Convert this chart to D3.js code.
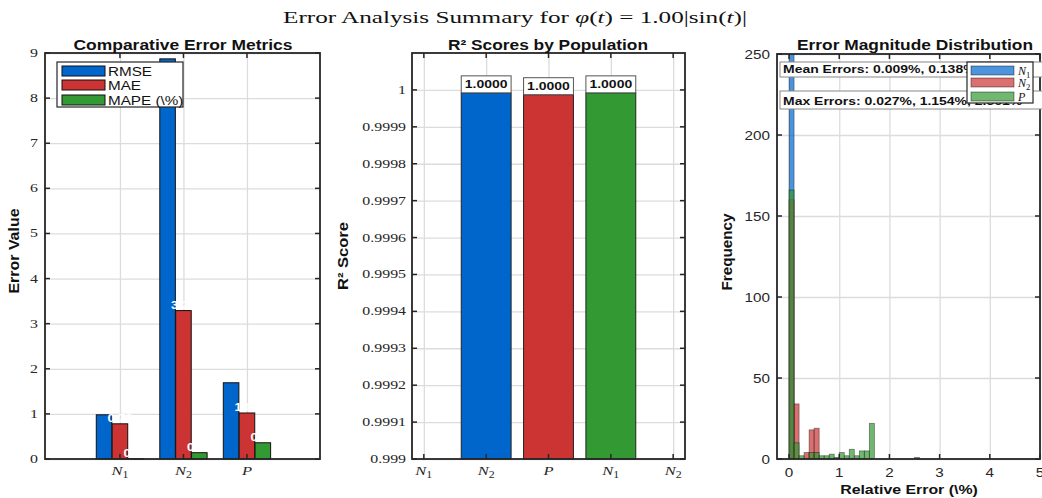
<!DOCTYPE html>
<html>
<head>
<meta charset="utf-8">
<script src="https://cdn.jsdelivr.net/npm/d3@7"></script>
<style>
  body { margin: 0; background: #fff; }
  svg { display: block; }
</style>
</head>
<body>
<svg id="chart" width="1042" height="498"></svg>
<script>
// ---------- data ----------
const populations = ["N_1", "N_2", "P"];
const metricNames = ["RMSE", "MAE", "MAPE (\\%)"];
const rmseValues = [0.98, 8.87, 1.69];
const maeValues = [0.78, 3.29, 1.02];
const mapeValues = [0.005, 0.14, 0.36];
const errorTicks = [0, 1, 2, 3, 4, 5, 6, 7, 8, 9];

const r2Values = [0.999992, 0.999987, 0.999992];
const r2Labels = ["1.0000", "1.0000", "1.0000"];
const r2Ticks = [0.999, 0.9991, 0.9992, 0.9993, 0.9994, 0.9995, 0.9996, 0.9997, 0.9998, 0.9999, 1];
const r2TickLabels = ["0.999", "0.9991", "0.9992", "0.9993", "0.9994", "0.9995", "0.9996", "0.9997", "0.9998", "0.9999", "1"];
const r2CategoryTicks = [0, 1, 2, 3, 4];
const r2CategoryLabels = ["N_1", "N_2", "P", "N_1", "N_2"];

const binWidth = 0.1;
const n1Counts = [256];
const n2Counts = [160, 34, 0, 4, 18, 19];
const pCounts = [166, 10, 2, 0, 4, 4, 2, 2, 3, 1, 4, 2, 6, 2, 5, 5, 22, 0, 0, 0, 0, 0, 0, 0, 0, 1];
const freqTicks = [0, 50, 100, 150, 200, 250];
const relErrTicks = [0, 1, 2, 3, 4, 5];
const meanErrors = ["0.009%", "0.138%", "0.377%"];
const maxErrors = ["0.027%", "1.154%", "2.561%"];

// ---------- styling ----------
const BLUE = "#0066CC", RED = "#CC3333", GREEN = "#339933";
const AXIS = "#262626", GRID = "#dcdcdc";
const SERIF = "'Liberation Serif', 'DejaVu Serif', serif";
const SANS = "'Liberation Sans', Arial, sans-serif";
const HS = 1.27; // horizontal widening of the text glyphs

const svg = d3.select("#chart");

// widen horizontal text by HS (or to a fixed length)
function widen(sel, fixed) {
  sel.each(function () {
    const len = this.getComputedTextLength();
    this.setAttribute("textLength", fixed || len * HS);
    this.setAttribute("lengthAdjust", "spacingAndGlyphs");
  });
  return sel;
}

// math-style label: italic letter with optional subscript
function mathLabel(sel, label, size) {
  sel.text(null);
  const [base, sub] = label.split("_");
  sel.append("tspan").attr("font-style", "italic").text(base);
  if (sub) sel.append("tspan").attr("font-size", size * 0.72).attr("dy", size * 0.25).text(sub);
}

// background grid
function frame(g, x, y, xt, yt) {
  const [xl, xr] = x.range();
  const [yb, ytp] = y.range();
  g.append("g").attr("transform", `translate(0,${yb})`)
    .call(d3.axisBottom(x).tickValues(xt).tickSize(-(yb - ytp)).tickFormat(""))
    .call(s => { s.select(".domain").remove(); s.selectAll("line").attr("stroke", GRID).attr("stroke-width", 1.3); });
  g.append("g").attr("transform", `translate(${xl},0)`)
    .call(d3.axisLeft(y).tickValues(yt).tickSize(-(xr - xl)).tickFormat(""))
    .call(s => { s.select(".domain").remove(); s.selectAll("line").attr("stroke", GRID).attr("stroke-width", 1.3); });
}
// axes box with inward ticks on all four sides
function box(g, x, y, xt, yt) {
  const [xl, xr] = x.range();
  const [yb, ytp] = y.range();
  const tk = 5;
  const t = g.append("g").attr("stroke", AXIS).attr("stroke-width", 1.5);
  xt.forEach(v => {
    t.append("line").attr("x1", x(v)).attr("x2", x(v)).attr("y1", yb).attr("y2", yb - tk);
    t.append("line").attr("x1", x(v)).attr("x2", x(v)).attr("y1", ytp).attr("y2", ytp + tk);
  });
  yt.forEach(v => {
    t.append("line").attr("x1", xl).attr("x2", xl + tk).attr("y1", y(v)).attr("y2", y(v));
    t.append("line").attr("x1", xr).attr("x2", xr - tk).attr("y1", y(v)).attr("y2", y(v));
  });
  g.append("rect").attr("x", xl).attr("y", ytp).attr("width", xr - xl).attr("height", yb - ytp)
    .attr("fill", "none").attr("stroke", AXIS).attr("stroke-width", 1.8);
}
function title(g, text, cx, w) {
  g.append("text").attr("x", cx).attr("y", 50).attr("text-anchor", "middle")
    .attr("font-family", SANS).attr("font-weight", "bold").attr("font-size", 14).attr("fill", "#111").text(text)
    .call(widen, w);
}
function ylabel(g, text, cx, cy, len) {
  g.append("text").attr("transform", `translate(${cx},${cy}) rotate(-90)`).attr("text-anchor", "middle")
    .attr("font-family", SANS).attr("font-weight", "bold").attr("font-size", 14).attr("fill", "#111").text(text)
    .attr("textLength", len).attr("lengthAdjust", "spacingAndGlyphs");
}

// ---------- main title ----------
const mt = svg.append("text").attr("x", 515).attr("y", 23).attr("text-anchor", "middle")
  .attr("font-family", SERIF).attr("font-size", 16).attr("fill", "#111");
mt.append("tspan").text("Error Analysis Summary for ");
mt.append("tspan").attr("font-style", "italic").text("φ");
mt.append("tspan").text("(");
mt.append("tspan").attr("font-style", "italic").text("t");
mt.append("tspan").text(") = 1.00|sin(");
mt.append("tspan").attr("font-style", "italic").text("t");
mt.append("tspan").text(")|");
widen(mt, 464);

// ---------- panel 1: comparative error metrics ----------
{
  const g = svg.append("g");
  const x = d3.scaleLinear().domain([-0.18, 4.15]).range([45, 320]);
  const y = d3.scaleLinear().domain([0, 9]).range([459, 53]);
  const cats = populations.map((d, i) => i + 1);
  frame(g, x, y, cats, errorTicks);

  const series = [
    { name: metricNames[0], values: rmseValues, color: BLUE },
    { name: metricNames[1], values: maeValues, color: RED },
    { name: metricNames[2], values: mapeValues, color: GREEN }
  ];
  const offsets = [-0.25, 0, 0.25];
  const bw = 0.245;
  const bars = g.append("g");
  series.forEach((s, si) => {
    bars.selectAll(null).data(s.values).enter().append("rect")
      .attr("x", (d, i) => x(cats[i] + offsets[si] - bw / 2))
      .attr("width", x(bw) - x(0))
      .attr("y", d => y(d))
      .attr("height", d => y(0) - y(d))
      .attr("fill", s.color).attr("stroke", "#111").attr("stroke-width", 1);
  });
  // value labels (white, drawn after all bars)
  series.forEach((s, si) => {
    bars.selectAll(null).data(s.values).enter().append("text")
      .attr("x", (d, i) => x(cats[i] + offsets[si]))
      .attr("y", d => y(d) - 2)
      .attr("text-anchor", "middle").attr("font-family", SANS).attr("font-weight", "bold")
      .attr("font-size", 10).attr("fill", "#fff").text(d => d.toFixed(2))
      .call(widen);
  });
  box(g, x, y, cats, errorTicks);

  // tick labels
  g.selectAll(null).data(errorTicks).enter().append("text")
    .attr("x", 38).attr("y", d => y(d) + 4).attr("text-anchor", "end")
    .attr("font-family", SERIF).attr("font-size", 12.5).attr("fill", AXIS).text(d => d)
    .call(widen);
  g.selectAll(null).data(populations).enter().append("text")
    .attr("x", (d, i) => x(cats[i])).attr("y", 475).attr("text-anchor", "middle")
    .attr("font-family", SERIF).attr("font-size", 13).attr("fill", AXIS)
    .each(function (d) { mathLabel(d3.select(this), d, 13); })
    .call(widen);

  title(g, "Comparative Error Metrics", 183, 219);
  ylabel(g, "Error Value", 19, 251, 85);

  // legend
  const lg = g.append("g");
  lg.append("rect").attr("x", 57).attr("y", 62).attr("width", 126).attr("height", 45)
    .attr("fill", "#fff").attr("stroke", AXIS).attr("stroke-width", 1.2);
  series.forEach((s, i) => {
    const yy = [66, 80, 95][i];
    lg.append("rect").attr("x", 62).attr("y", yy).attr("width", 43).attr("height", 10)
      .attr("fill", s.color).attr("stroke", "#111").attr("stroke-width", 1);
    lg.append("text").attr("x", 108).attr("y", yy + 9.5).attr("font-family", SANS)
      .attr("font-size", 12).attr("fill", "#111").text(s.name).call(widen);
  });
}

// ---------- panel 2: R² scores ----------
{
  const g = svg.append("g");
  const x = d3.scaleLinear().domain([-0.19, 4.19]).range([412, 685]);
  const y = d3.scaleLinear().domain([0.999, 1.0001]).range([459, 53]);
  frame(g, x, y, r2CategoryTicks, r2Ticks);
  const colors = [BLUE, RED, GREEN];
  const bw = 0.8;
  g.selectAll(null).data(r2Values).enter().append("rect")
    .attr("x", (d, i) => x(i + 1 - bw / 2)).attr("width", x(bw) - x(0))
    .attr("y", d => y(d)).attr("height", d => y(0.999) - y(d))
    .attr("fill", (d, i) => colors[i]).attr("stroke", "#222").attr("stroke-width", 1);
  // value boxes
  r2Values.forEach((d, i) => {
    const bx = x(i + 1 - bw / 2), w = x(bw) - x(0);
    g.append("rect").attr("x", bx).attr("y", y(d) - 17).attr("width", w).attr("height", 17)
      .attr("fill", "#fff").attr("stroke", "#555").attr("stroke-width", 1);
    g.append("text").attr("x", bx + w / 2).attr("y", y(d) - 4.5).attr("text-anchor", "middle")
      .attr("font-family", SANS).attr("font-weight", "bold").attr("font-size", 11).attr("fill", "#111")
      .text(r2Labels[i]).call(widen);
  });
  box(g, x, y, r2CategoryTicks, r2Ticks);
  g.selectAll(null).data(r2Ticks).enter().append("text")
    .attr("x", 406).attr("y", d => y(d) + 4).attr("text-anchor", "end")
    .attr("font-family", SERIF).attr("font-size", 12.5).attr("fill", AXIS).text((d, i) => r2TickLabels[i])
    .call(widen);
  g.selectAll(null).data(r2CategoryLabels).enter().append("text")
    .attr("x", (d, i) => x(r2CategoryTicks[i])).attr("y", 475).attr("text-anchor", "middle")
    .attr("font-family", SERIF).attr("font-size", 13).attr("fill", AXIS)
    .each(function (d) { mathLabel(d3.select(this), d, 13); })
    .call(widen);
  title(g, "R² Scores by Population", 548, 200);
  ylabel(g, "R² Score", 348, 256, 68);
}

// ---------- panel 3: error magnitude histogram ----------
{
  const g = svg.append("g");
  const x = d3.scaleLinear().domain([-0.24, 5]).range([777, 1040]);
  const y = d3.scaleLinear().domain([0, 250]).range([459, 54]);
  frame(g, x, y, relErrTicks, freqTicks);

  svg.append("defs").append("clipPath").attr("id", "histClip")
    .append("rect").attr("x", 777).attr("y", 54).attr("width", 263).attr("height", 405);
  const hg = g.append("g").attr("clip-path", "url(#histClip)");
  const hist = [
    { counts: n1Counts, color: BLUE, label: "N_1" },
    { counts: n2Counts, color: RED, label: "N_2" },
    { counts: pCounts, color: GREEN, label: "P" }
  ];
  hist.forEach(h => {
    const bins = h.counts.map((c, i) => ({ x0: i * binWidth, c })).filter(b => b.c > 0);
    hg.selectAll(null).data(bins).enter().append("rect")
      .attr("x", b => x(b.x0)).attr("width", x(binWidth) - x(0))
      .attr("y", b => y(b.c)).attr("height", b => y(0) - y(b.c))
      .attr("fill", h.color).attr("fill-opacity", 0.7)
      .attr("stroke", "#000").attr("stroke-opacity", 0.45).attr("stroke-width", 0.8);
  });
  box(g, x, y, relErrTicks, freqTicks);

  g.selectAll(null).data(freqTicks).enter().append("text")
    .attr("x", 770).attr("y", d => y(d) + 4.5).attr("text-anchor", "end")
    .attr("font-family", SANS).attr("font-size", 12).attr("fill", AXIS).text(d => d)
    .call(widen);
  g.selectAll(null).data(relErrTicks).enter().append("text")
    .attr("x", d => x(d)).attr("y", 477).attr("text-anchor", "middle")
    .attr("font-family", SANS).attr("font-size", 12).attr("fill", AXIS).text(d => d)
    .call(widen);
  g.append("text").attr("x", 909).attr("y", 494).attr("text-anchor", "middle")
    .attr("font-family", SANS).attr("font-weight", "bold").attr("font-size", 12.5).attr("fill", "#111")
    .text("Relative Error (\\%)").call(widen);
  title(g, "Error Magnitude Distribution", 915, 236);
  ylabel(g, "Frequency", 732, 252, 77);

  // annotation boxes
  function note(text, yTop, h, base) {
    const t = g.append("text").attr("x", 783).attr("y", base)
      .attr("font-family", SANS).attr("font-weight", "bold").attr("font-size", 11).attr("fill", "#111").text(text)
      .call(widen);
    const w = t.node().getComputedTextLength() * HS;
    g.insert("rect", () => t.node()).attr("x", 780).attr("y", yTop).attr("width", w + 8).attr("height", h)
      .attr("fill", "#fff").attr("stroke", "#888").attr("stroke-width", 1);
  }
  note("Mean Errors: " + meanErrors.join(", "), 62, 15, 73);
  note("Max Errors: " + maxErrors.join(", "), 91, 18, 105);

  // legend
  const lg = g.append("g");
  lg.append("rect").attr("x", 967).attr("y", 62).attr("width", 66).attr("height", 41)
    .attr("fill", "#fff").attr("stroke", AXIS).attr("stroke-width", 1.2);
  hist.forEach((h, i) => {
    const yy = [66, 78, 92][i];
    lg.append("rect").attr("x", 971).attr("y", yy).attr("width", 43).attr("height", 9)
      .attr("fill", h.color).attr("fill-opacity", 0.7).attr("stroke", "#000").attr("stroke-opacity", 0.5).attr("stroke-width", 0.8);
    lg.append("text").attr("x", 1018).attr("y", yy + 8.5).attr("font-family", SERIF)
      .attr("font-size", 12).attr("fill", "#111")
      .each(function () { mathLabel(d3.select(this), h.label, 12); });
  });
}
</script>
</body>
</html>
